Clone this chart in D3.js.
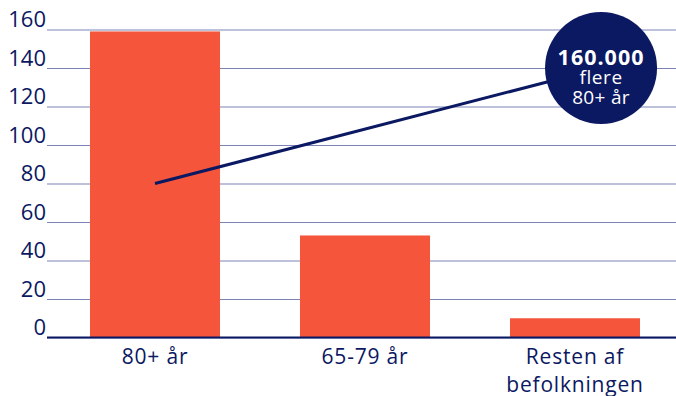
<!DOCTYPE html>
<html>
<head>
<meta charset="utf-8">
<script src="https://cdn.jsdelivr.net/npm/d3@7"></script>
<style>
  html, body { margin: 0; padding: 0; background: #fff; }
  svg { display: block; }
  svg text { font-family: "Open Sans", Lato, sans-serif; }
</style>
</head>
<body>
<svg id="chart" width="676" height="396"></svg>
<script>
// Growth in population by age group (thousands)
const categories = ["80+ år", "65-79 år", "Resten af befolkningen"];
const values = [159, 53, 10];
const yTicks = [0, 20, 40, 60, 80, 100, 120, 140, 160];

// Callout: line from the first bar to a bubble, position in (category index, value)
const calloutFrom = [0, 80];
const calloutTo = [2.124, 140];
const calloutLines = ["160.000", "flere", "80+ år"];

const W = 676, H = 396;
const margin = { left: 47, right: 0, top: 29.5, bottom: 58.5 };
const navy = "#0b1862";
const barColor = "#f5553b";
const gridColor = "#7c83b6";
const fontFamily = "'Open Sans', Lato, sans-serif";

const svg = d3.select("#chart");

const x = d3.scaleBand()
  .domain(categories)
  .range([50, 680])
  .paddingInner(80 / 210)
  .paddingOuter(40 / 210);

const y = d3.scaleLinear()
  .domain([0, 160])
  .range([H - margin.bottom, margin.top]);

// continuous position over category index (for the callout)
const xi = d3.scaleLinear()
  .domain([0, categories.length - 1])
  .range([x(categories[0]) + x.bandwidth() / 2,
          x(categories[categories.length - 1]) + x.bandwidth() / 2]);

// gridlines + tick labels
const yAxis = d3.axisLeft(y)
  .tickValues(yTicks)
  .tickSize(-(W - margin.left))
  .tickPadding(0);

const gy = svg.append("g")
  .attr("transform", `translate(${margin.left},0)`)
  .call(yAxis)
  .attr("font-family", fontFamily);
gy.select(".domain").remove();
gy.selectAll(".tick line")
  .attr("stroke", gridColor)
  .attr("stroke-width", 1);
gy.selectAll(".tick text")
  .attr("fill", navy)
  .attr("font-size", 22)
  .attr("x", -1)
  .attr("dy", "-0.13em")
  .attr("text-anchor", "end");

// bars
svg.append("g")
  .selectAll("rect")
  .data(categories)
  .join("rect")
  .attr("x", d => x(d))
  .attr("width", x.bandwidth())
  .attr("y", (d, i) => y(values[i]))
  .attr("height", (d, i) => y(0) - y(values[i]))
  .attr("fill", barColor);

// baseline
svg.append("line")
  .attr("x1", margin.left)
  .attr("x2", W)
  .attr("y1", y(0))
  .attr("y2", y(0))
  .attr("stroke", navy)
  .attr("stroke-width", 2);

// category labels
const xAxis = d3.axisBottom(x).tickSize(0).tickPadding(0);
const gx = svg.append("g")
  .attr("transform", `translate(0,${y(0)})`)
  .call(xAxis)
  .attr("font-family", fontFamily);
gx.select(".domain").remove();
gx.selectAll(".tick text").each(function(d) {
  const t = d3.select(this);
  t.text(null)
    .attr("fill", navy)
    .attr("font-size", 21)
    .attr("letter-spacing", 0.8)
    .attr("y", 0)
    .attr("dy", null);
  const words = d === "Resten af befolkningen" ? ["Resten af", "befolkningen"] : [d];
  words.forEach((w, k) => {
    t.append("tspan")
      .attr("x", 0)
      .attr("y", 26 + k * 28.5)
      .text(w);
  });
});

// callout line
svg.append("line")
  .attr("x1", xi(calloutFrom[0]))
  .attr("y1", y(calloutFrom[1]))
  .attr("x2", xi(calloutTo[0]))
  .attr("y2", y(calloutTo[1]))
  .attr("stroke", navy)
  .attr("stroke-width", 3);

// callout bubble
const cx = xi(calloutTo[0]), cy = y(calloutTo[1]);
svg.append("circle")
  .attr("cx", cx)
  .attr("cy", cy)
  .attr("r", 56)
  .attr("fill", navy);

const bubbleText = svg.append("text")
  .attr("text-anchor", "middle")
  .attr("font-family", fontFamily)
  .attr("fill", "#fff");
bubbleText.append("tspan")
  .attr("x", cx).attr("y", cy - 3)
  .attr("font-size", 21.5).attr("font-weight", 700)
  .attr("letter-spacing", 1)
  .text(calloutLines[0]);
bubbleText.append("tspan")
  .attr("x", cx).attr("y", cy + 16)
  .attr("font-size", 19)
  .attr("letter-spacing", 0.6)
  .text(calloutLines[1]);
bubbleText.append("tspan")
  .attr("x", cx).attr("y", cy + 36)
  .attr("font-size", 19)
  .attr("letter-spacing", 0.3)
  .text(calloutLines[2]);
</script>
</body>
</html>
